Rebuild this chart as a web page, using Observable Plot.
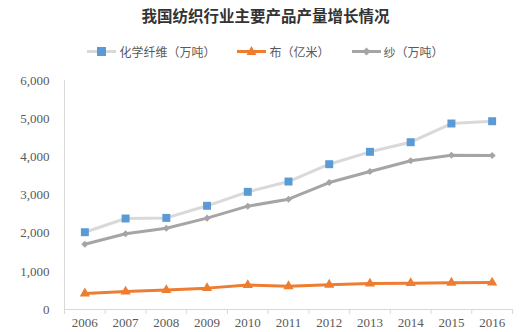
<!DOCTYPE html>
<html>
<head>
<meta charset="utf-8">
<script src="https://cdn.jsdelivr.net/npm/d3@7"></script>
<script src="https://cdn.jsdelivr.net/npm/@observablehq/plot@0.6"></script>
<style>
  html, body { margin: 0; padding: 0; background: #fff; }
  #wrap { position: relative; width: 531px; height: 332px; overflow: hidden; }
  #title { position: absolute; left: 0; top: 4px; width: 531px; text-align: center;
    font-family: "Noto Sans CJK SC", sans-serif; font-weight: bold; font-size: 15.5px; color: #333; line-height: 22px; }
  #legend { position: absolute; left: 0; top: 42px; width: 531px; height: 18px; display: flex; justify-content: center; align-items: center;
    font-family: "Noto Sans CJK SC", sans-serif; font-size: 12px; color: #595959; }
  .item { display: flex; align-items: center; margin: 0 11px; }
  .item svg { margin-right: 3px; }
  #chart { position: absolute; left: 0; top: 68px; }
  #chart svg, #chart svg g, #chart svg text { font-family: "Liberation Serif", "Times New Roman", serif !important; font-size: 13px !important; }
  #chart svg text { fill: #595959 !important; }
</style>
</head>
<body>
<div id="wrap">
  <div id="title">我国纺织行业主要产品产量增长情况</div>
  <div id="legend"></div>
  <div id="chart"></div>
</div>
<script>
const years = [2006, 2007, 2008, 2009, 2010, 2011, 2012, 2013, 2014, 2015, 2016];
const fiber = [2025, 2384, 2400, 2717, 3083, 3353, 3807, 4131, 4383, 4873, 4933];
const cloth = [420, 470, 510, 560, 640, 610, 650, 680, 690, 700, 706];
const yarn  = [1711, 1983, 2130, 2393, 2707, 2890, 3327, 3615, 3896, 4042, 4035];
const seriesNames = ["化学纤维（万吨）", "布（亿米）", "纱（万吨）"];
const yTicks = [0, 1000, 2000, 3000, 4000, 5000, 6000];

const series = [
  {name: seriesNames[0], values: fiber, line: "#D9D9D9", marker: "#5B9BD5", symbol: "square", r: 4.5},
  {name: seriesNames[1], values: cloth, line: "#ED7D31", marker: "#ED7D31", symbol: "triangle", r: 3.8},
  {name: seriesNames[2], values: yarn,  line: "#A5A5A5", marker: "#A5A5A5", symbol: "diamond2", r: 3.2}
];

// legend
const legend = document.getElementById("legend");
const symPaths = {
  square: '<rect x="10" y="3" width="9" height="9"/>',
  triangle: '<path d="M14.5,2 L19.5,11 L9.5,11 Z"/>',
  diamond2: '<path d="M14.5,3.5 L18.5,7.5 L14.5,11.5 L10.5,7.5 Z"/>'
};
for (const s of series) {
  const d = document.createElement("div");
  d.className = "item";
  d.innerHTML = `<svg width="29" height="15"><line x1="0" x2="29" y1="7.5" y2="7.5" stroke="${s.line}" stroke-width="3"/><g fill="${s.marker}">${symPaths[s.symbol]}</g></svg><span>${s.name}</span>`;
  legend.appendChild(d);
}

const data = series.flatMap(s => years.map((yr, i) => ({year: yr, value: s.values[i], name: s.name})));
const bounds = d3.range(years[0] - 0.5, years[years.length - 1] + 1, 1);

const marks = [
  Plot.ruleX([years[0] - 0.5], {y1: 0, y2: 6000, stroke: "#D9D9D9", strokeWidth: 1}),
  Plot.ruleY([0], {stroke: "#D9D9D9", strokeWidth: 1}),
  Plot.axisY({ticks: yTicks, tickSize: 0, tickPadding: 15, tickFormat: d3.format(","), label: null}),
  Plot.axisX({ticks: bounds, tickSize: 5, stroke: "#D9D9D9", tickFormat: () => "", label: null}),
  Plot.axisX({ticks: years, tickSize: 0, tickPadding: 8, tickFormat: d => String(d), label: null})
];
for (const s of series) {
  const rows = data.filter(d => d.name === s.name);
  marks.push(Plot.line(rows, {x: "year", y: "value", stroke: s.line, strokeWidth: 3, strokeLinejoin: "round"}));
}
for (const s of series) {
  const rows = data.filter(d => d.name === s.name);
  marks.push(Plot.dot(rows, {x: "year", y: "value", symbol: () => s.symbol, fill: s.marker, stroke: "none", r: s.r}));
}

const plot = Plot.plot({
  width: 531,
  height: 264,
  marginTop: 12,
  marginBottom: 23,
  marginLeft: 64,
  marginRight: 19,
  x: {type: "linear", domain: [years[0] - 0.5, years[years.length - 1] + 0.5]},
  y: {domain: [0, 6000]},
  symbol: {type: "identity"},
  style: {background: "#fff", overflow: "visible"},
  marks
});
plot.querySelectorAll("text").forEach(t => {
  t.setAttribute("font-family", "Liberation Serif");
  t.style.fontFamily = "'Liberation Serif', serif";
  t.style.fontSize = "13px";
});
document.getElementById("chart").appendChild(plot);
</script>
</body>
</html>
